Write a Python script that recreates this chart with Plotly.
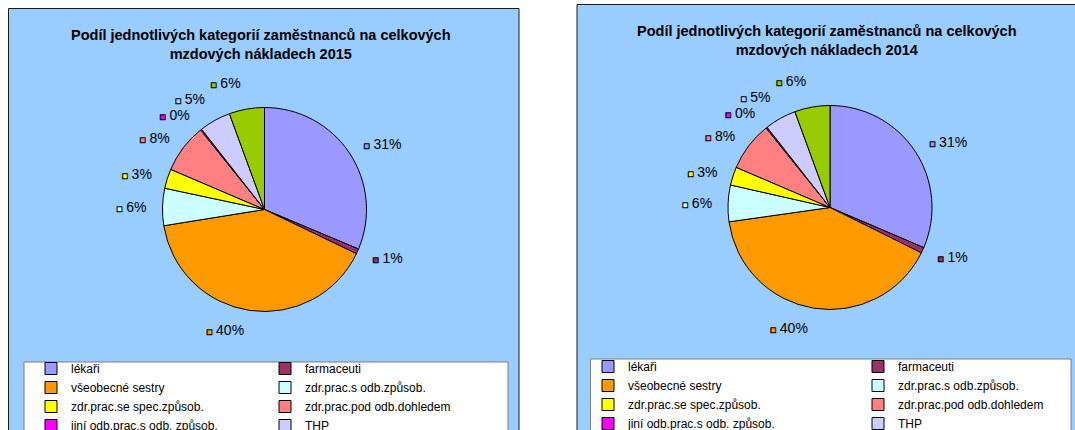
import plotly.graph_objects as go

W, H = 1075, 430
# plot area only spans the two pies, so the left legend sits "left of plot area"
ML, PR = 148, 946
GW = PR - ML

categories = ["lékaři", "farmaceuti", "všeobecné sestry", "zdr.prac.s odb.způsob.",
              "zdr.prac.se spec.způsob.", "zdr.prac.pod odb.dohledem",
              "jiní odb.prac.s odb. způsob.", "THP", "dělníci a provoz.prac."]
colors = ["#9999FF", "#993366", "#FF9900", "#CCFFFF", "#FFFF00",
          "#FF8080", "#FF00FF", "#CCCCFF", "#99CC00"]
share_2015 = [31.4, 0.8, 40.4, 5.9, 3.1, 7.8, 0.2, 5.0, 5.6]
share_2014 = [31.5, 0.9, 40.5, 5.8, 2.9, 7.8, 0.2, 5.0, 5.6]
years = ["2015", "2014"]

FONT = "Liberation Sans, Arial, sans-serif"
R_PIE = 102
R_LABELS = 114   # Excel keeps the data labels a bit further out than plotly


def px_x(x):
    return (x - ML) / GW


def px_y(y):
    return 1 - y / H


def pie_domain(cx, cy, r):
    return dict(x=[px_x(cx - r), px_x(cx + r)], y=[px_y(cy + r), px_y(cy - r)])


# little coloured boxes in front of the percentages, like the Excel labels
swatch = ["<span style='color:%s;fill-opacity:1;stroke:#000000;stroke-width:1px;font-size:10px'>■</span>" % c
          for c in colors]

fig = go.Figure()

panels = [
    dict(x0=8.5, x1=519, top=8.5, cx=264.5, cy=209.5, lx0=24, lx1=508, ltop=362,
         legend="legend", title_cx=261, suffix=""),
    # trailing space keeps the 2014 slices from being merged into the first legend
    dict(x0=577, x1=1090, top=4.5, cx=830, cy=207.5, lx0=590.5, lx1=1071, ltop=359,
         legend="legend2", title_cx=827, suffix=" "),
]

for panel, values, year in zip(panels, [share_2015, share_2014], years):
    fig.add_shape(type="rect", xref="paper", yref="paper", layer="below",
                  x0=px_x(panel["x0"]), x1=px_x(panel["x1"]),
                  y0=px_y(panel["top"]), y1=px_y(H + 20),
                  fillcolor="#99CCFF", line=dict(color="#1a1a1a", width=1))
    fig.add_shape(type="rect", xref="paper", yref="paper", layer="below",
                  x0=px_x(panel["lx0"]), x1=px_x(panel["lx1"]),
                  y0=px_y(panel["ltop"]), y1=px_y(H + 20),
                  fillcolor="#FFFFFF", line=dict(color="#7f7f7f", width=1))
    fig.add_annotation(
        text="<b>Podíl jednotlivých kategorií zaměstnanců na celkových<br>mzdových nákladech %s</b>" % year,
        xref="paper", yref="paper", x=px_x(panel["title_cx"]),
        y=px_y(panel["top"] + 16), xanchor="center", yanchor="top", showarrow=False,
        font=dict(family=FONT, size=14.5, color="#000000"))

    labels = [c + panel["suffix"] for c in categories]

    # the pie itself
    fig.add_trace(go.Pie(
        labels=labels,
        values=values,
        textinfo="none",
        marker=dict(colors=colors, line=dict(color="#000000", width=1)),
        sort=False,
        direction="clockwise",
        rotation=0,
        domain=pie_domain(panel["cx"], panel["cy"], R_PIE),
        hoverinfo="label+percent",
        legend=panel["legend"],
    ))
    # invisible, slightly larger copy that only carries the outside labels
    fig.add_trace(go.Pie(
        labels=labels,
        values=values,
        text=swatch,
        texttemplate="%{text}<span style='color:#000000;fill-opacity:1'> %{percent:.0%}</span>",
        textposition="outside",
        # transparent base colour hides the connector lines; the spans carry the colour
        outsidetextfont=dict(family=FONT, size=14, color="rgba(0,0,0,0)"),
        marker=dict(colors=["rgba(0,0,0,0)"] * len(colors), line=dict(width=0)),
        sort=False,
        direction="clockwise",
        rotation=0,
        domain=pie_domain(panel["cx"], panel["cy"], R_LABELS),
        hoverinfo="skip",
        showlegend=False,
    ))

legend_style = dict(orientation="h", xanchor="left", yanchor="top",
                    bgcolor="rgba(0,0,0,0)", borderwidth=0, traceorder="normal",
                    font=dict(family=FONT, size=12, color="#000000"))

fig.update_layout(
    width=W,
    height=H,
    margin=dict(l=ML, r=W - PR, t=0, b=0, autoexpand=False),
    paper_bgcolor="#FFFFFF",
    plot_bgcolor="#FFFFFF",
    font=dict(family=FONT),
    legend=dict(x=px_x(31), y=px_y(354), entrywidth=189, **legend_style),
    legend2=dict(x=px_x(588), y=px_y(352), entrywidth=225, **legend_style),
)

fig.write_html("out.html", config={"displayModeBar": False},
               post_script="document.body.style.margin='0';")
